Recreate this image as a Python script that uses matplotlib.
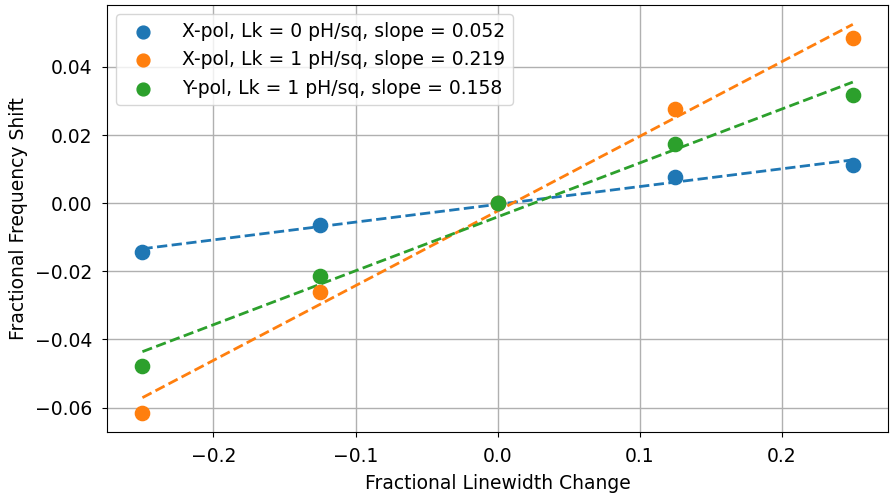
import numpy as np
import matplotlib
matplotlib.use("Agg")
import matplotlib.pyplot as plt

# fractional linewidth change
dw = [-0.25, -0.125, 0.0, 0.125, 0.25]

# fractional frequency shift per configuration
xpol_lk0 = [-0.0142, -0.0065, 0.0, 0.0077, 0.0113]
xpol_lk1 = [-0.0615, -0.0262, 0.0, 0.0277, 0.0485]
ypol_lk1 = [-0.0477, -0.0215, 0.0, 0.0173, 0.0318]

names = ['X-pol, Lk = 0 pH/sq', 'X-pol, Lk = 1 pH/sq', 'Y-pol, Lk = 1 pH/sq']
colors = ['tab:blue', 'tab:orange', 'tab:green']

fig = plt.figure(figsize=(8.91, 4.95), dpi=100)
ax = fig.add_axes([0.12, 0.127, 0.877, 0.863])

for y, name, c in zip([xpol_lk0, xpol_lk1, ypol_lk1], names, colors):
    x = np.array(dw); y = np.array(y)
    slope, icpt = np.polyfit(x, y, 1)
    ax.scatter(x, y, s=105, color=c, zorder=3, label=f'{name}, slope = {slope:.3f}')
    ax.plot(x, slope*x + icpt, '--', color=c, lw=2, zorder=2)

ax.grid(True, color='#b0b0b0', lw=1)
ax.set_axisbelow(True)
ax.set_xlabel('Fractional Linewidth Change', fontsize=13.5, labelpad=6)
ax.set_ylabel('Fractional Frequency Shift', fontsize=13.5, labelpad=5)
ax.tick_params(labelsize=13.5, pad=7)
ax.legend(loc='upper left', fontsize=13.5, handletextpad=1.1, markerscale=0.9)

fig.savefig('out.png')
